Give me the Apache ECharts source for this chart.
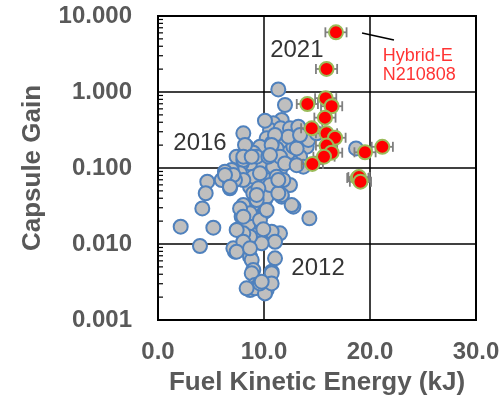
<!DOCTYPE html>
<html>
<head>
<meta charset="utf-8">
<script src="https://cdn.jsdelivr.net/npm/echarts@6/dist/echarts.min.js"></script>
<style>
  html, body { margin: 0; padding: 0; background: #fff; }
  #chart { width: 504px; height: 404px; }
</style>
</head>
<body>
<div id="chart"></div>
<script>
// Earlier shots (2012-2020): fuel kinetic energy (kJ) and capsule gain
const earlyEnergy = [
  11.35, 11.98, 11.67, 10.88, 10.57, 10.09, 11.57, 12.45, 8.05, 8.36,
  10.25, 11.67, 11.98, 13.71, 14.03, 13.40, 12.61, 13.71, 12.30, 9.78,
  9.62, 8.68, 7.89, 7.42, 8.05, 7.74, 6.95, 6.32, 6.01, 6.79,
  6.79, 8.68, 10.25, 11.51, 10.88, 8.99, 10.09, 11.67, 12.45, 11.67,
  10.25, 8.99, 8.99, 8.05, 10.09, 8.21, 7.89, 12.77, 14.28, 4.65,
  4.50, 4.18, 2.14, 5.22, 3.96, 7.58, 8.52, 9.31, 10.57, 11.51,
  10.72, 8.21, 7.89, 7.26, 7.11, 8.21, 8.68, 8.84, 8.99, 8.84,
  11.04, 10.72, 10.57, 9.15, 8.68, 9.15, 10.25, 10.09, 9.62, 11.04,
  9.78, 18.68, 13.08, 12.77, 11.19, 10.72, 9.62, 8.99, 8.52, 9.31,
  10.41, 11.51, 11.98, 13.08, 11.19, 9.62, 10.57, 9.47, 8.05, 7.26,
  12.30, 14.18, 14.97, 13.24, 9.31, 8.68, 9.62, 8.68, 8.05, 9.94,
  11.04, 10.72, 8.21, 8.05, 8.84, 10.57, 13.08, 13.40, 7.11, 6.32,
  9.31, 11.35, 11.82, 6.79, 11.35, 7.74, 10.25, 12.61, 8.05, 7.42,
  8.05, 7.42, 8.68, 10.72, 10.72, 8.36, 9.78
];
const earlyGain = [
  1.08, 0.675, 0.428, 0.387, 0.316, 0.42, 0.333, 0.333, 0.286, 0.191,
  0.246, 0.222, 0.207, 0.272, 0.191, 0.141, 0.121, 0.104, 0.159, 0.121,
  0.115, 0.115, 0.115, 0.141, 0.127, 0.0851, 0.0942, 0.0895, 0.0695, 0.0661,
  0.054, 0.0567, 0.0695, 0.0942, 0.104, 0.0769, 0.0379, 0.0419, 0.0597, 0.0442,
  0.0419, 0.0465, 0.0326, 0.0326, 0.0266, 0.0229, 0.0229, 0.031, 0.0218, 0.0661,
  0.0465, 0.0294, 0.0169, 0.0164, 0.00942, 0.0156, 0.0178, 0.0131, 0.0138, 0.0138,
  0.0145, 0.0113, 0.00923, 0.00793, 0.00877, 0.00877, 0.00681, 0.00615, 0.00455, 0.00411,
  0.00647, 0.00432, 0.00336, 0.00289, 0.00248, 0.00261, 0.00248, 0.00224, 0.00303, 0.0107,
  0.0102, 0.181, 0.258, 0.191, 0.181, 0.211, 0.191, 0.159, 0.141, 0.141,
  0.141, 0.141, 0.115, 0.109, 0.0769, 0.0851, 0.0597, 0.054, 0.0695, 0.0695,
  0.258, 0.234, 0.286, 0.35, 0.0379, 0.0253, 0.0207, 0.0125, 0.0138, 0.0156,
  0.272, 0.201, 0.201, 0.141, 0.141, 0.148, 0.181, 0.272, 0.0809, 0.0809,
  0.0442, 0.0465, 0.0695, 0.0567, 0.0695, 0.0294, 0.028, 0.0326, 0.0229, 0.0153,
  0.0107, 0.00793, 0.00877, 0.00411, 0.00303, 0.00261, 0.00319
];

// 2021 Hybrid-E shots with energy uncertainty (kJ)
const hybridEnergy = [16.79, 15.9, 14.09, 15.82, 16.38, 15.75, 14.5, 15.9, 16.7, 15.9, 16.38, 15.66, 14.56, 19.53, 21.16, 18.85, 18.96, 19.1];
const hybridGain   = [6.1, 2.01, 0.695, 0.83, 0.65, 0.46, 0.333, 0.286, 0.25, 0.197, 0.159, 0.141, 0.113, 0.161, 0.19, 0.074, 0.076, 0.066];
const hybridErr    = [1.0, 1.0, 1.0, 1.0, 1.0, 1.0, 1.0, 1.0, 1.0, 1.0, 1.0, 1.0, 1.0, 1.0, 1.0, 1.0, 1.0, 1.0];

// Axis ticks
const xTicks = [0, 10, 20, 30];
const yDecades = [0.001, 0.01, 0.1, 1, 10];
const yMinorTicks = [];
for (let d = 0; d < yDecades.length - 1; d++) {
  for (let k = 2; k <= 9; k++) yMinorTicks.push(+(yDecades[d] * k).toPrecision(3));
}

// Text notes: [energy, gain, text]
const yearNotes = [[13.1, 3.5, '2021'], [3.96, 0.213, '2016'], [15.1, 0.0048, '2012']];
const shotNote = [21.2, 2.2, 'Hybrid-E\nN210808'];
const leaderX = [19.25, 22.26];
const leaderY = [5.97, 4.83];

const FONT = '"Liberation Sans", Arial, sans-serif';
const GREY_TEXT = '#595959';

const chart = echarts.init(document.getElementById('chart'), null, { renderer: 'canvas' });

const option = {
  backgroundColor: '#ffffff',
  animation: false,
  grid: {
    left: 158, right: 28, top: 16, bottom: 84,
    show: true, borderColor: '#000', borderWidth: 2, backgroundColor: 'transparent'
  },
  xAxis: {
    type: 'value', min: xTicks[0], max: xTicks[xTicks.length - 1], interval: 10,
    name: 'Fuel Kinetic Energy (kJ)', nameLocation: 'middle', nameGap: 50,
    nameTextStyle: { fontFamily: FONT, fontWeight: 'bold', fontSize: 26, color: GREY_TEXT },
    axisLine: { show: false }, axisTick: { show: false },
    axisLabel: { fontFamily: FONT, fontWeight: 'bold', fontSize: 24, color: GREY_TEXT, margin: 20,
      formatter: v => v.toFixed(1) },
    splitLine: { show: true, lineStyle: { color: '#000', width: 1.5 } }
  },
  yAxis: {
    type: 'log', logBase: 10, min: yDecades[0], max: yDecades[yDecades.length - 1],
    name: 'Capsule Gain', nameLocation: 'middle', nameGap: 112,
    nameTextStyle: { fontFamily: FONT, fontWeight: 'bold', fontSize: 26, color: GREY_TEXT },
    axisLine: { show: false }, axisTick: { show: false },
    axisLabel: { fontFamily: FONT, fontWeight: 'bold', fontSize: 24, color: GREY_TEXT, margin: 26,
      formatter: v => v.toFixed(3) },
    splitLine: { show: true, lineStyle: { color: '#000', width: 1.5 } }
  },
  series: [
    {
      // minor log ticks along the inside of the left edge
      type: 'custom', silent: true, clip: false, z: 3,
      data: yMinorTicks.map(v => [xTicks[0], v]),
      renderItem: (params, api) => {
        const p = api.coord([api.value(0), api.value(1)]);
        return { type: 'line', shape: { x1: p[0], y1: p[1], x2: p[0] + 5, y2: p[1] },
          style: { stroke: '#000', lineWidth: 1.2 } };
      }
    },
    {
      name: 'earlier', type: 'scatter', z: 4,
      symbol: 'circle', symbolSize: 14,
      itemStyle: { color: '#bfbfbf', borderColor: '#4f81bd', borderWidth: 2, opacity: 1 },
      data: earlyEnergy.map((e, i) => [e, earlyGain[i]])
    },
    {
      // horizontal energy error bars
      type: 'custom', z: 5, silent: true,
      data: hybridEnergy.map((e, i) => [e, hybridGain[i], hybridErr[i]]),
      renderItem: (params, api) => {
        const x = api.value(0), y = api.value(1), err = api.value(2);
        const a = api.coord([x - err, y]);
        const b = api.coord([x + err, y]);
        const h = 5;
        const st = { stroke: '#7f7f7f', lineWidth: 1.8 };
        return { type: 'group', children: [
          { type: 'line', shape: { x1: a[0], y1: a[1], x2: b[0], y2: b[1] }, style: st },
          { type: 'line', shape: { x1: a[0], y1: a[1] - h, x2: a[0], y2: a[1] + h }, style: st },
          { type: 'line', shape: { x1: b[0], y1: b[1] - h, x2: b[0], y2: b[1] + h }, style: st }
        ] };
      }
    },
    {
      name: 'Hybrid-E', type: 'scatter', z: 6,
      symbol: 'circle', symbolSize: 14,
      itemStyle: { color: '#ff0000', borderColor: '#9bbb59', borderWidth: 2, opacity: 1 },
      data: hybridEnergy.map((e, i) => [e, hybridGain[i]])
    },
    {
      // leader line to the Hybrid-E N210808 note
      type: 'line', z: 6, silent: true, symbol: 'none',
      lineStyle: { color: '#000', width: 1.5 },
      data: leaderX.map((x, i) => [x, leaderY[i]])
    },
    {
      type: 'scatter', z: 7, silent: true, symbolSize: 1,
      itemStyle: { color: 'transparent' },
      label: { show: true, position: 'inside', formatter: p => p.data[2],
        fontFamily: FONT, fontSize: 24, color: '#000' },
      data: yearNotes
    },
    {
      type: 'scatter', z: 7, silent: true, symbolSize: 1,
      itemStyle: { color: 'transparent' },
      label: { show: true, position: 'inside', align: 'left', formatter: p => p.data[2],
        fontFamily: FONT, fontSize: 18, lineHeight: 19, color: '#ff0000' },
      data: [shotNote]
    }
  ]
};

chart.setOption(option);
</script>
</body>
</html>
